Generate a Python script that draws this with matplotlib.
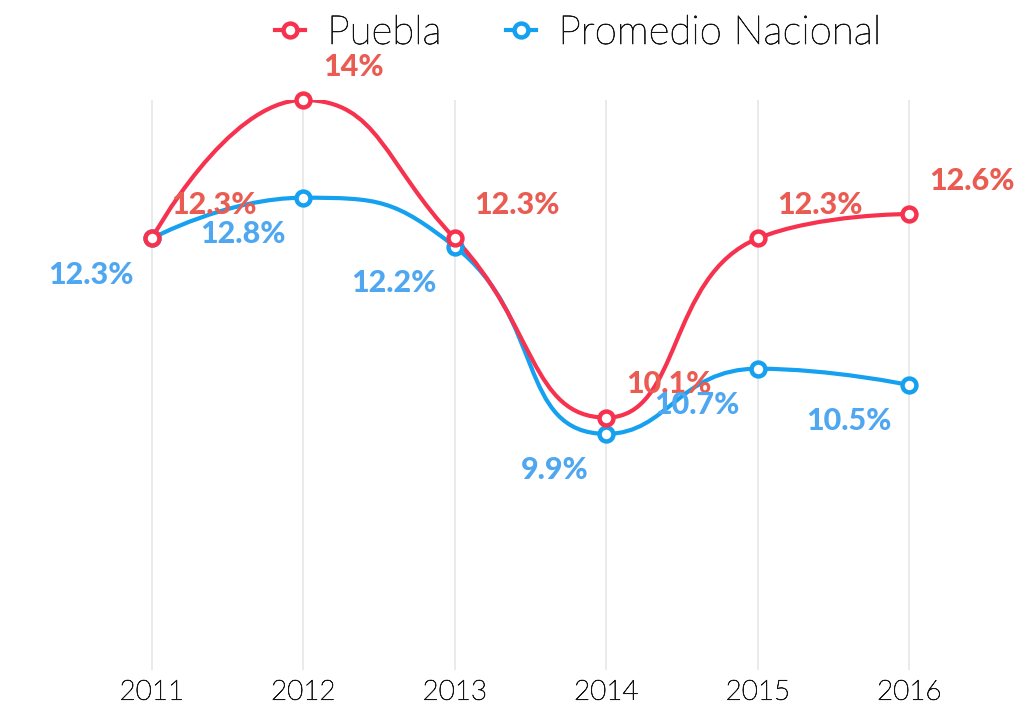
import matplotlib.pyplot as plt
import matplotlib.patheffects as pe
import numpy as np
from matplotlib.lines import Line2D
from matplotlib.path import Path
from matplotlib.patches import PathPatch

# -------------------------------------------------------------------
# Data
# -------------------------------------------------------------------
years = ["2011", "2012", "2013", "2014", "2015", "2016"]
puebla = [12.3, 14.0, 12.3, 10.1, 12.3, 12.6]
nacional = [12.3, 12.8, 12.2, 9.9, 10.7, 10.5]
puebla_labels = ["12.3%", "14%", "12.3%", "10.1%", "12.3%", "12.6%"]
nacional_labels = ["12.3%", "12.8%", "12.2%", "9.9%", "10.7%", "10.5%"]

RED_LINE = "#f7324f"
RED_TEXT = "#ea5b52"
BLUE_LINE = "#15a0f0"
BLUE_TEXT = "#4ea7f0"
GRID = "#e6e6e6"
INK = "#151515"

plt.rcParams["font.family"] = ["Lato", "DejaVu Sans"]
THIN_INK = [pe.withStroke(linewidth=0.5, foreground=INK)]


def smooth_path(ax, xs, ys, smooth=0.5):
    """Bezier path through the points (echarts-style clamped smoothing, pixel space)."""
    pts = ax.transData.transform(np.column_stack([xs, ys]))
    n = len(pts)
    verts = [pts[0]]
    codes = [Path.MOVETO]
    cp0 = pts[0]
    for i in range(1, n):
        x, y = pts[i]
        px, py = pts[i - 1]
        if i == n - 1:
            cp1 = pts[i]
            nxt_cp = pts[i]
        else:
            nx, ny = pts[i + 1]
            vx, vy = nx - px, ny - py
            lp = np.hypot(x - px, y - py)
            ln = np.hypot(nx - x, ny - y)
            r = ln / (ln + lp)
            ncx = x + vx * smooth * r
            ncy = y + vy * smooth * r
            ncx = min(ncx, max(nx, x)); ncx = max(ncx, min(nx, x))
            ncy = min(ncy, max(ny, y)); ncy = max(ncy, min(ny, y))
            vx, vy = ncx - x, ncy - y
            c1x = x - vx * lp / ln
            c1y = y - vy * lp / ln
            c1x = min(c1x, max(px, x)); c1x = max(c1x, min(px, x))
            c1y = min(c1y, max(py, y)); c1y = max(c1y, min(py, y))
            vx, vy = x - c1x, y - c1y
            ncx = x + vx * ln / lp
            ncy = y + vy * ln / lp
            cp1 = np.array([c1x, c1y])
            nxt_cp = np.array([ncx, ncy])
        verts += [cp0, cp1, pts[i]]
        codes += [Path.CURVE4] * 3
        cp0 = nxt_cp
    verts = ax.transData.inverted().transform(np.array(verts))
    return Path(verts, codes)


fig = plt.figure(figsize=(10.21, 7.08), dpi=100)
ax = fig.add_axes([76 / 1021, 38 / 708, (985 - 76) / 1021, 570 / 708])

x = np.arange(len(years))
ax.set_xlim(-0.5, len(years) - 0.5)
ax.set_ylim(7, 14)

for xi in x:
    ax.axvline(xi, color=GRID, lw=1.2, zorder=0)

for vals, color in [(nacional, BLUE_LINE), (puebla, RED_LINE)]:
    ax.add_patch(PathPatch(smooth_path(ax, x, vals), facecolor="none",
                           edgecolor=color, lw=3.0, zorder=2, capstyle="round"))
    ax.plot(x, vals, ls="none", marker="o", ms=10, mfc="white", mec=color,
            mew=3.2, zorder=3, clip_on=False)

for xi, v, t in zip(x, puebla, puebla_labels):
    ax.annotate(t, (xi, v), xytext=(14, 24), textcoords="offset points",
                ha="left", va="center", color=RED_TEXT, fontsize=22,
                fontweight="black", zorder=5, annotation_clip=False)
for xi, v, t in zip(x, nacional, nacional_labels):
    ax.annotate(t, (xi, v), xytext=(-13, -26), textcoords="offset points",
                ha="right", va="center", color=BLUE_TEXT, fontsize=22,
                fontweight="black", zorder=5, annotation_clip=False)

ax.set_xticks(x)
ax.set_xticklabels(years, fontsize=20, fontweight="light", color=INK)
for t in ax.get_xticklabels():
    t.set_path_effects(THIN_INK)
ax.tick_params(axis="x", length=0, pad=7)
ax.set_yticks([])
for s in ax.spines.values():
    s.set_visible(False)

handles = [
    Line2D([], [], color=RED_LINE, lw=3, marker="o", ms=10, mfc="white",
           mec=RED_LINE, mew=3.2),
    Line2D([], [], color=BLUE_LINE, lw=3, marker="o", ms=10, mfc="white",
           mec=BLUE_LINE, mew=3.2),
]
leg = fig.legend(handles, ["Puebla", "Promedio Nacional"], loc="center",
                 bbox_to_anchor=(578 / 1021, 1 - 33 / 708), ncol=2, frameon=False,
                 handlelength=0.75, handletextpad=0.55, columnspacing=1.6,
                 prop={"weight": "light", "size": 29})
for t in leg.get_texts():
    t.set_color(INK)
    t.set_path_effects(THIN_INK)

fig.savefig("out.png", dpi=100)
